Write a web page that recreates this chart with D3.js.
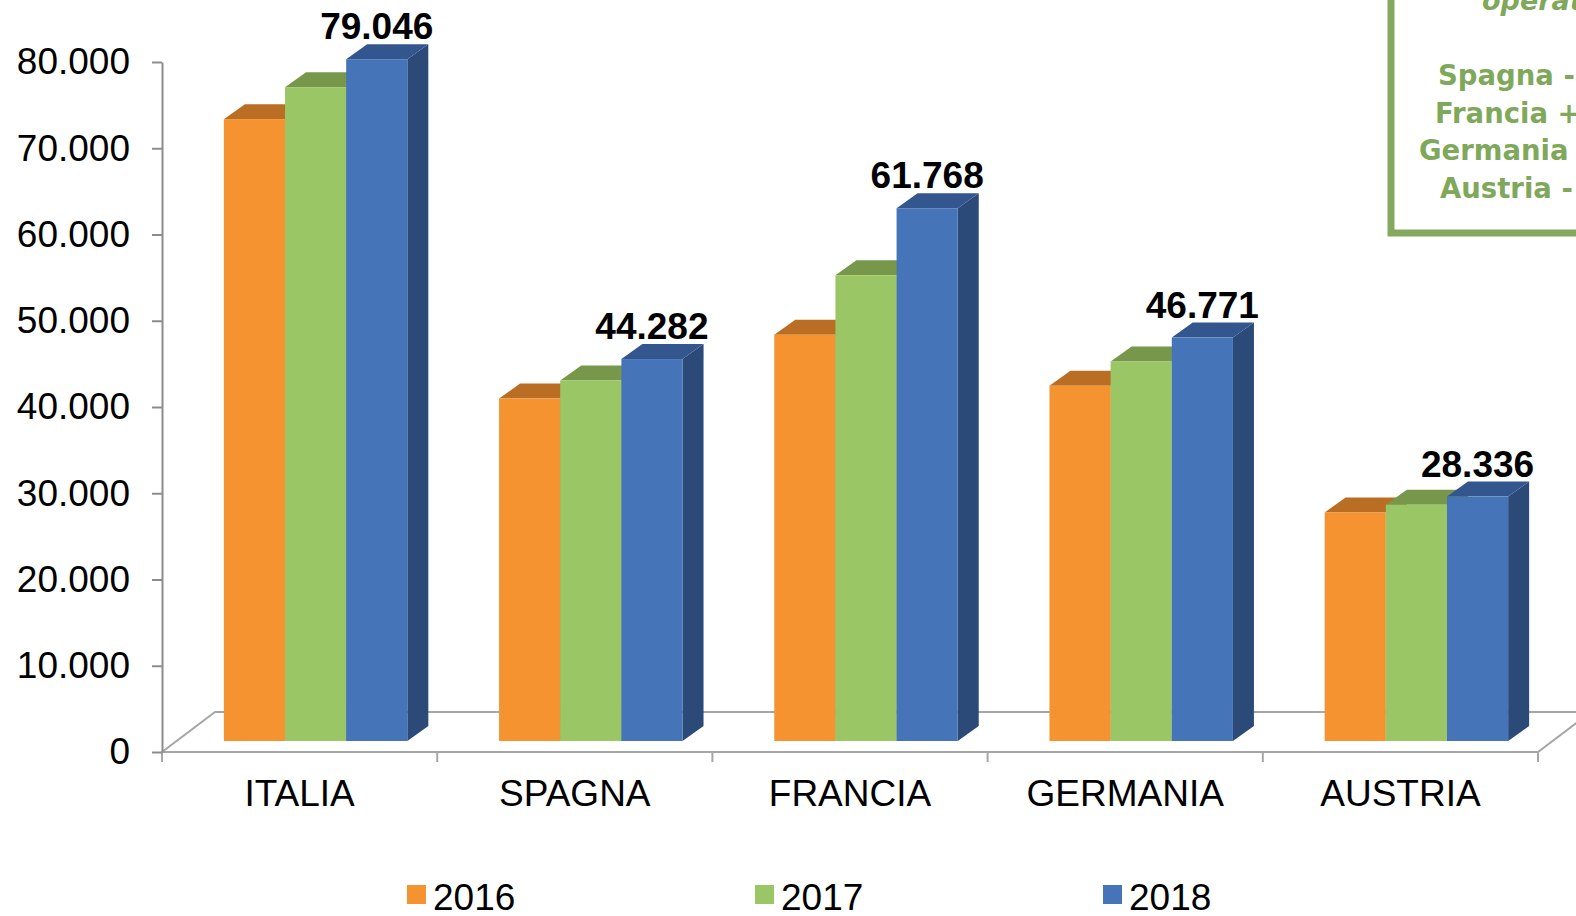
<!DOCTYPE html>
<html>
<head>
<meta charset="utf-8">
<script src="https://cdn.jsdelivr.net/npm/d3@7"></script>
<style>
  html, body { margin: 0; padding: 0; background: #fff; overflow: hidden; }
  #chart { width: 1576px; height: 916px; }
</style>
</head>
<body>
<div id="chart"></div>
<script>
// Data
const categories = ["ITALIA", "SPAGNA", "FRANCIA", "GERMANIA", "AUSTRIA"];
const years = ["2016", "2017", "2018"];
const values2016 = [72100, 39700, 47100, 41200, 26500];
const values2017 = [75800, 41800, 54000, 44000, 27400];
const values2018 = [79046, 44282, 61768, 46771, 28336];
const yTicks = [0, 10000, 20000, 30000, 40000, 50000, 60000, 70000, 80000];
const noteLines = ["Spagna -", "Francia +", "Germania", "Austria -"];

const seriesValues = [values2016, values2017, values2018];
const colors = {
  front: ["#f59331", "#9bc666", "#4574b9"],
  top:   ["#b96e24", "#77984b", "#33568f"],
  side:  ["#b0651f", "#6f8f45", "#2b4a77"]
};

// Size and 3D offsets
const W = 1576, H = 916;
const floorDepth = {dx: 53, dy: -40};
const barShift = {dx: 16, dy: -11};   // front face of bars sits a bit into the floor
const barDepth = {dx: 21, dy: -15};
const font = "'Liberation Sans', Arial, sans-serif";

const svg = d3.select("#chart")
  .append("svg")
  .attr("width", W)
  .attr("height", H)
  .style("font-family", font);

// Scales
const x0 = d3.scaleBand()
  .domain(categories)
  .range([162, 1538]);
const x1 = d3.scaleBand()
  .domain(years)
  .range([0, x0.bandwidth()])
  .paddingOuter(0.75);
const y = d3.scaleLinear()
  .domain([0, 80000])
  .range([752, 62]);

const fmt = d3.formatLocale({decimal: ",", thousands: ".", grouping: [3], currency: ["€", ""]}).format(",");

// Floor
const fx0 = x0.range()[0], fx1 = x0.range()[1], fy = y(0);
svg.append("path")
  .attr("d", `M${fx0},${fy}L${fx1},${fy}L${fx1 + floorDepth.dx},${fy + floorDepth.dy}L${fx0 + floorDepth.dx},${fy + floorDepth.dy}Z`)
  .attr("fill", "#fff")
  .attr("stroke", "#a6a6a6")
  .attr("stroke-width", 2);

// Category ticks under the floor
const bounds = categories.map(c => x0(c)).concat([fx1]);
svg.append("g")
  .selectAll("line")
  .data(bounds)
  .join("line")
  .attr("x1", d => d).attr("x2", d => d)
  .attr("y1", fy).attr("y2", fy + 10)
  .attr("stroke", "#a6a6a6")
  .attr("stroke-width", 2);

// Category labels
const xAxis = svg.append("g")
  .attr("transform", `translate(0,${fy})`)
  .call(d3.axisBottom(x0).tickSize(0).tickPadding(28));
xAxis.select(".domain").remove();
xAxis.selectAll("text")
  .attr("font-size", 37)
  .attr("font-family", font)
  .attr("fill", "#000");

// Value axis
const yAxis = svg.append("g")
  .attr("transform", `translate(${fx0},0)`)
  .call(d3.axisLeft(y).tickValues(yTicks).tickFormat(fmt).tickSize(10).tickSizeOuter(0).tickPadding(22));
yAxis.select(".domain").attr("stroke", "#8c8c8c").attr("stroke-width", 2);
yAxis.selectAll(".tick line").attr("stroke", "#8c8c8c").attr("stroke-width", 2);
yAxis.selectAll("text")
  .attr("font-size", 37)
  .attr("font-family", font)
  .attr("fill", "#000");

// Bars: one group per category, drawn left to right
const bars = [];
categories.forEach((c, ci) => {
  years.forEach((yr, si) => {
    bars.push({cat: c, year: yr, si: si, value: seriesValues[si][ci]});
  });
});

const g = svg.append("g");
bars.forEach(d => {
  const xl = x0(d.cat) + x1(d.year) + barShift.dx;
  const xr = xl + x1.bandwidth();
  const yb = y(0) + barShift.dy;
  const yt = y(d.value) + barShift.dy;
  const dx = barDepth.dx, dy = barDepth.dy;
  // side
  g.append("path")
    .attr("d", `M${xr},${yt}L${xr + dx},${yt + dy}L${xr + dx},${yb + dy}L${xr},${yb}Z`)
    .attr("fill", colors.side[d.si]);
  // top
  g.append("path")
    .attr("d", `M${xl},${yt}L${xl + dx},${yt + dy}L${xr + dx},${yt + dy}L${xr},${yt}Z`)
    .attr("fill", colors.top[d.si]);
  // front
  g.append("rect")
    .attr("x", xl)
    .attr("y", yt)
    .attr("width", x1.bandwidth())
    .attr("height", yb - yt)
    .attr("fill", colors.front[d.si]);
});

// Value labels on 2018 bars
svg.append("g")
  .selectAll("text")
  .data(bars.filter(d => d.year === "2018"))
  .join("text")
  .attr("x", d => x0(d.cat) + x1(d.year) + barShift.dx + x1.bandwidth() / 2)
  .attr("y", d => y(d.value) + barShift.dy + barDepth.dy - 5)
  .attr("text-anchor", "middle")
  .attr("font-size", 37)
  .attr("font-weight", "bold")
  .text(d => fmt(d.value));

// Legend
const legend = svg.append("g")
  .selectAll("g")
  .data(years)
  .join("g")
  .attr("transform", (d, i) => `translate(${407 + i * 348},885)`);
legend.append("rect")
  .attr("width", 19)
  .attr("height", 19)
  .attr("fill", (d, i) => colors.front[i]);
legend.append("text")
  .attr("x", 26)
  .attr("y", 25)
  .attr("font-size", 37)
  .text(d => d);

// Note box at the top right
const note = svg.append("g");
note.append("rect")
  .attr("x", 1391)
  .attr("y", -60)
  .attr("width", 300)
  .attr("height", 293)
  .attr("fill", "#fff")
  .attr("stroke", "#84a95e")
  .attr("stroke-width", 7);
note.append("text")
  .attr("x", 1482)
  .attr("y", 10)
  .attr("font-family", "'DejaVu Sans', Verdana, sans-serif")
  .attr("font-weight", "bold")
  .attr("font-style", "italic")
  .attr("font-size", 27)
  .attr("fill", "#80a85a")
  .text("operatori");
const noteX = [1438, 1435, 1419, 1440];
note.selectAll("text.line")
  .data(noteLines)
  .join("text")
  .attr("class", "line")
  .attr("x", (d, i) => noteX[i])
  .attr("y", (d, i) => 85 + i * 37.7)
  .attr("font-family", "'DejaVu Sans', Verdana, sans-serif")
  .attr("font-weight", "bold")
  .attr("font-size", 27.5)
  .attr("fill", "#80a85a")
  .text(d => d);
</script>
</body>
</html>
